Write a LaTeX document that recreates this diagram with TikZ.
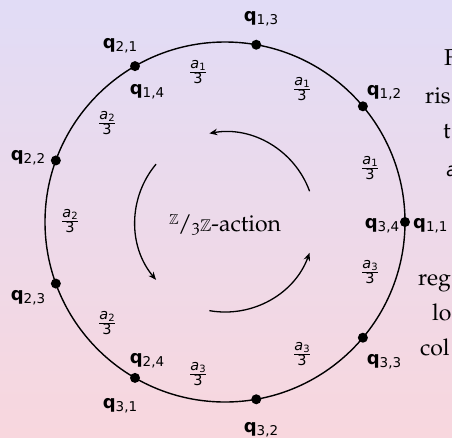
\documentclass[tikz,border=0pt]{standalone}
\usepackage[T1]{fontenc}
\usepackage{fontspec}
\usepackage{amssymb}
\usetikzlibrary{arrows.meta,calc}
\newfontfamily\lab{DejaVu Sans}
\newcommand\pal{\fontencoding{T1}\fontfamily{pplj}\selectfont}
\definecolor{bgtop}{RGB}{225,220,246}
\definecolor{bgbot}{RGB}{248,215,222}
\newcommand\qq[1]{{\lab\fontsize{18}{18}\selectfont\bfseries q}{\lab\fontsize{13.5}{13.5}\selectfont\raisebox{-3.5pt}{#1}}}
\newcommand\af[1]{\fontsize{14.5}{14.5}\selectfont$\textstyle\frac{\hbox{\lab\fontsize{14.5}{14.5}\selectfont\itshape a\raisebox{-2.5pt}{\fontsize{10}{10}\selectfont\upshape #1}}}{\hbox{\lab\fontsize{14.5}{14.5}\selectfont 3}}$}
\begin{document}
\begin{tikzpicture}[x=1pt,y=-1pt,
  dot/.style={circle,fill=black,inner sep=0pt,minimum size=10pt},
  ring/.style={line width=1.4pt},
  act/.style={line width=1.3pt,-{Stealth[length=8pt,width=6.5pt]}},
  qlab/.style={inner sep=0pt,anchor=base},
  fr/.style={inner sep=0pt},
  side/.style={inner sep=0pt,anchor=base west,font=\pal\fontsize{23}{26}\selectfont}]
\useasboundingbox (0,0) rectangle (452,437);
\clip (0,0) rectangle (452,437);
\shade[top color=bgtop,bottom color=bgbot] (0,0) rectangle (452,437);
\coordinate (c) at (225,222);
\draw[ring] (c) circle[radius=180];
% inner action arrows
\draw[act] (c) ++(-20:90) arc[start angle=-20,end angle=-100,radius=90];
\draw[act] (c) ++(-140:90) arc[start angle=-140,end angle=-220,radius=90];
\draw[act] (c) ++(-260:90) arc[start angle=-260,end angle=-340,radius=90];
% dots
\foreach \k in {0,...,8} {\node[dot] (p\k) at ($(c)+(-40*\k:180)$) {};}
% labels
\node[qlab] (l13) at (261,21) {\qq{1,3}};
\node[qlab] (l12) at (384,95) {\qq{1,2}};
\node[qlab] (l21) at (120,48) {\qq{2,1}};
\node[qlab] (l14) at (147,94) {\qq{1,4}};
\node[qlab] (l22) at (28,160) {\qq{2,2}};
\node[qlab] (l23) at (28,300) {\qq{2,3}};
\node[qlab] (l24) at (147,363) {\qq{2,4}};
\node[qlab] (l31) at (120,408) {\qq{3,1}};
\node[qlab] (l32) at (261,432) {\qq{3,2}};
\node[qlab] (l33) at (384,364) {\qq{3,3}};
\node[qlab] (l34) at (382,228) {\qq{3,4}};
\node[qlab,anchor=base west] (l11) at (413,228) {\qq{1,1}};
% fractions
\node[fr] (f1) at (198,72) {\af{1}};
\node[fr] (f2) at (302,89) {\af{1}};
\node[fr] (f3) at (370,168) {\af{1}};
\node[fr] (f4) at (107,123) {\af{2}};
\node[fr] (f5) at (70,221) {\af{2}};
\node[fr] (f6) at (107,323) {\af{2}};
\node[fr] (f7) at (198,374) {\af{3}};
\node[fr] (f8) at (302,354) {\af{3}};
\node[fr] (f9) at (370,272) {\af{3}};
% centre text
\node[inner sep=0pt,anchor=base] (act) at (225,231) {\pal\fontsize{23}{26}\selectfont\raisebox{7pt}{\fontsize{14.5}{15}\selectfont$\mathbb{Z}$}\kern-0.5pt/\kern-0.5pt{\fontsize{17}{17}\selectfont 3$\mathbb{Z}$}-action};
% clipped side text
\node[side] (s1) at (444,65) {F};
\node[side] (s2) at (425,103) {ris};
\node[side] (s3) at (443,138) {t};
\node[side,font=\lab\fontsize{19}{20}\selectfont\itshape] (s4) at (446,176) {a};
\node[side] (s5) at (418,285) {reg};
\node[side] (s6) at (432,320) {lo};
\node[side] (s7) at (420,355) {col};
\end{tikzpicture}
\end{document}
